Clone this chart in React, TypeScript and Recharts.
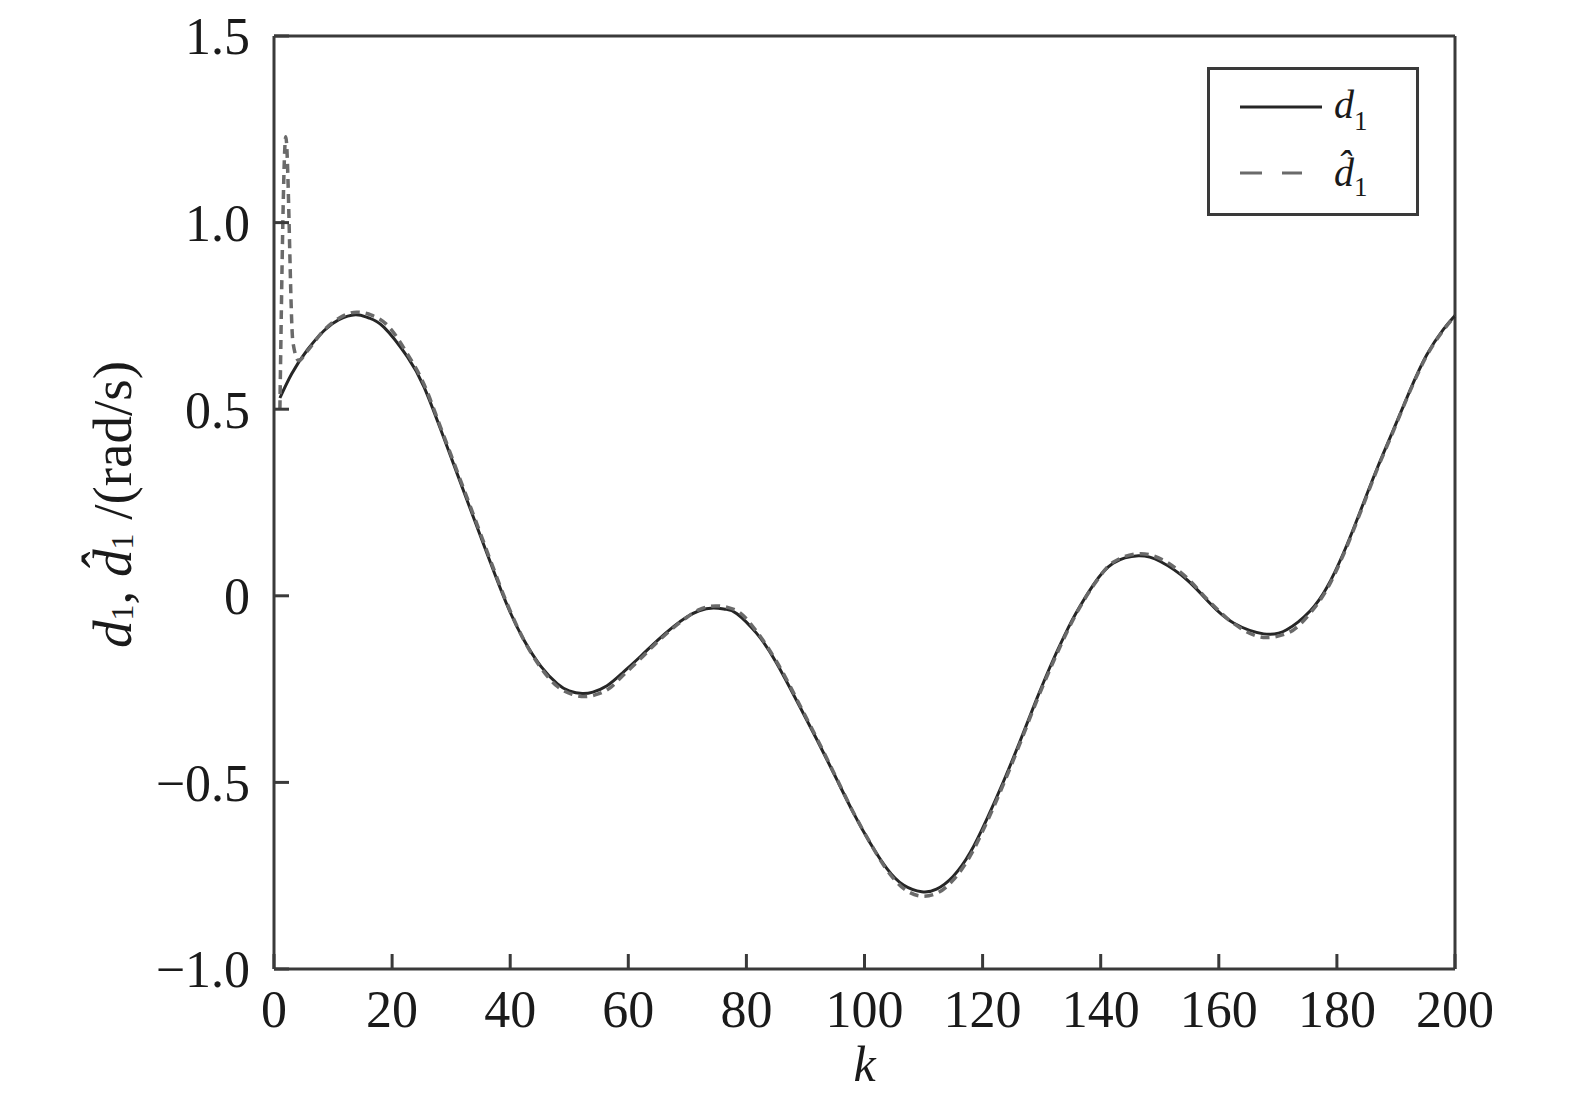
import { LineChart, Line, XAxis, YAxis, ReferenceLine, Legend } from 'recharts'

// solid curve d1
const d1K = [
  1, 3, 5.6, 8.5, 11, 13.8, 16, 18.6, 22.6, 25.4, 28.2, 31, 33.9, 36.7, 39.5, 42.3, 45.2, 48, 50, 52.2,
  54, 56.4, 59, 62.1, 64.9, 67.7, 69.9, 72, 74.4, 76.5, 78.4, 81.7, 85.1, 89.6, 92.5, 95.3, 98.1, 100.9,
  103.8, 106.6, 109.7, 112.2, 115, 117.9, 120.7, 123.5, 126.3, 129.1, 132, 134.5, 135.9, 138.7, 142.1,
  146.4, 150.1, 154.6, 158.5, 162.5, 167.6, 171.5, 175.5, 178.3, 181.1, 183.9, 186.7, 189.6, 192.4,
  195.2, 198, 200,
]
const d1Values = [
  0.53, 0.595, 0.658, 0.711, 0.74, 0.753, 0.745, 0.72, 0.64, 0.56, 0.447, 0.328, 0.205, 0.087, -0.026,
  -0.118, -0.189, -0.236, -0.255, -0.262, -0.258, -0.241, -0.207, -0.162, -0.12, -0.082, -0.057, -0.04,
  -0.033, -0.036, -0.048, -0.1, -0.18, -0.314, -0.403, -0.492, -0.581, -0.661, -0.731, -0.775, -0.793,
  -0.786, -0.752, -0.688, -0.599, -0.499, -0.391, -0.279, -0.17, -0.086, -0.044, 0.028, 0.087, 0.107,
  0.092, 0.043, -0.02, -0.073, -0.102, -0.091, -0.04, 0.022, 0.114, 0.224, 0.337, 0.446, 0.551, 0.645,
  0.713, 0.751,
]

// dashed estimate d1-hat (spike at the start)
const hatK = [
  1, 2, 3.2, 4.2, 5.6, 8.5, 11, 14, 16.5, 19, 22.6, 25.4, 28.2, 31, 33.9, 36.7, 39.5, 42.3, 45.2, 48,
  50.5, 52.6, 54.5, 56.8, 59, 62.1, 64.9, 67.7, 69.9, 72, 74.8, 76.8, 78.8, 81.7, 85.1, 89.6, 92.5, 95.3,
  98.1, 100.9, 103.8, 106.6, 110, 112.5, 115, 117.9, 120.7, 123.5, 126.3, 129.1, 132, 134.5, 135.9,
  138.7, 142.1, 146.8, 150.4, 154.6, 158.5, 162.5, 168, 171.8, 175.5, 178.3, 181.1, 183.9, 186.7, 189.6,
  192.4, 195.2, 198, 200,
]
const hatValues = [
  0.5, 1.23, 0.68, 0.63, 0.655, 0.712, 0.744, 0.76, 0.752, 0.728, 0.648, 0.567, 0.452, 0.334, 0.212,
  0.093, -0.022, -0.118, -0.193, -0.243, -0.264, -0.27, -0.265, -0.248, -0.215, -0.168, -0.124, -0.085,
  -0.058, -0.037, -0.027, -0.031, -0.044, -0.095, -0.176, -0.31, -0.4, -0.49, -0.58, -0.66, -0.735,
  -0.784, -0.805, -0.795, -0.762, -0.697, -0.607, -0.506, -0.397, -0.284, -0.176, -0.09, -0.047, 0.026,
  0.09, 0.113, 0.097, 0.048, -0.017, -0.074, -0.112, -0.099, -0.046, 0.017, 0.11, 0.22, 0.334, 0.443,
  0.549, 0.643, 0.711, 0.75,
]

const xTicks = [0, 20, 40, 60, 80, 100, 120, 140, 160, 180, 200]
const yTicks = [-1, -0.5, 0, 0.5, 1, 1.5]

const d1Data = d1K.map((k, i) => ({ k, v: d1Values[i] }))
const hatData = hatK.map((k, i) => ({ k, v: hatValues[i] }))

const FONT = "'Liberation Serif', 'DejaVu Serif', serif"
const INK = '#1a1a1a'
const FRAME = '#3a3a3a'
const SOLID = '#262626'
const DASH = '#6a6a6a'

const fmtY = (v: number) => (v === 0 ? '0' : (v < 0 ? '\u2212' : '') + Math.abs(v).toFixed(1))

function YLabel(props: any) {
  const vb = props.viewBox ?? { x: 174, y: 36, width: 100, height: 933 }
  const cx = vb.x - 62
  const cy = vb.y + vb.height / 2 + 2
  return (
    <text
      x={cx}
      y={cy}
      transform={`rotate(-90, ${cx}, ${cy})`}
      textAnchor="middle"
      dominantBaseline="central"
      fontFamily={FONT}
      fontSize={55}
      fill={INK}
    >
      <tspan fontStyle="italic">d</tspan>
      <tspan fontSize={32} dy={10}>1</tspan>
      <tspan dy={-10}>, </tspan>
      <tspan fontStyle="italic">d̂</tspan>
      <tspan fontSize={32} dy={10}>1</tspan>
      <tspan dy={-10}> /(rad/s)</tspan>
    </text>
  )
}

function XLabel(props: any) {
  const vb = props.viewBox ?? { x: 274, y: 969, width: 1181, height: 60 }
  return (
    <text
      x={vb.x + vb.width / 2}
      y={vb.y + 112}
      textAnchor="middle"
      fontFamily={FONT}
      fontStyle="italic"
      fontSize={50}
      fill={INK}
    >
      k
    </text>
  )
}

function LegendBox() {
  return (
    <svg width={212} height={149} style={{ display: 'block' }}>
      <rect x={1.5} y={1.5} width={209} height={146} fill="#fff" stroke={FRAME} strokeWidth={3} />
      <line x1={33} x2={115} y1={40} y2={40} stroke={SOLID} strokeWidth={3} />
      <line x1={33} x2={95} y1={106} y2={106} stroke={DASH} strokeWidth={3} strokeDasharray="22 20" />
      <text x={127} y={51} fontFamily={FONT} fontSize={40} fill={INK}>
        <tspan fontStyle="italic">d</tspan>
        <tspan fontSize={27} dy={12}>1</tspan>
      </text>
      <text x={127} y={119} fontFamily={FONT} fontSize={40} fill={INK}>
        <tspan fontStyle="italic">d̂</tspan>
        <tspan fontSize={27} dy={10}>1</tspan>
      </text>
    </svg>
  )
}

export default function App() {
  return (
    <div style={{ position: 'absolute', left: 0, top: 0, width: 1575, height: 1106, background: '#fff' }}>
      <LineChart width={1575} height={1106} margin={{ top: 36, right: 120, left: 174, bottom: 77 }}>
        <XAxis
          type="number"
          dataKey="k"
          domain={[0, 200]}
          ticks={xTicks}
          height={60}
          tickSize={-15}
          tickMargin={36}
          axisLine={{ stroke: FRAME, strokeWidth: 3 }}
          tickLine={{ stroke: FRAME, strokeWidth: 3 }}
          tick={{ fill: INK, fontSize: 52, fontFamily: FONT }}
          label={{ content: (p: any) => <XLabel {...p} /> }}
        />
        <YAxis
          type="number"
          domain={[-1, 1.5]}
          ticks={yTicks}
          width={100}
          tickSize={-15}
          tickMargin={39}
          tickFormatter={fmtY}
          axisLine={{ stroke: FRAME, strokeWidth: 3 }}
          tickLine={{ stroke: FRAME, strokeWidth: 3 }}
          tick={{ fill: INK, fontSize: 52, fontFamily: FONT }}
          label={{ content: (p: any) => <YLabel {...p} /> }}
        />
        <ReferenceLine y={1.5} stroke={FRAME} strokeWidth={3} />
        <ReferenceLine x={200} stroke={FRAME} strokeWidth={3} />
        <Line
          data={d1Data}
          dataKey="v"
          name="d1"
          type="natural"
          stroke={SOLID}
          strokeWidth={3}
          dot={false}
          isAnimationActive={false}
        />
        <Line
          data={hatData}
          dataKey="v"
          name="d1hat"
          type="monotone"
          stroke={DASH}
          strokeWidth={3.5}
          strokeDasharray="9 6"
          dot={false}
          isAnimationActive={false}
        />
        <Legend
          layout="horizontal"
          align="center"
          verticalAlign="middle"
          wrapperStyle={{ left: 1207, top: 67, width: 212, height: 149 }}
          content={() => <LegendBox />}
        />
      </LineChart>
    </div>
  )
}
